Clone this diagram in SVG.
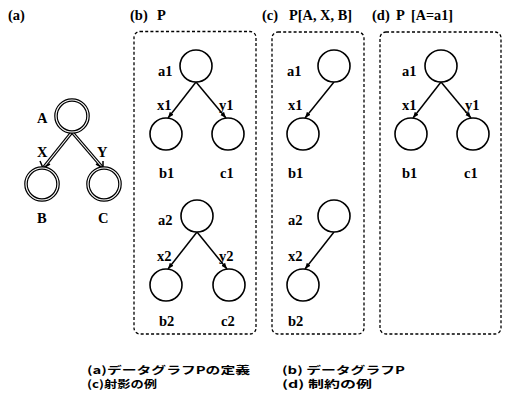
<svg xmlns="http://www.w3.org/2000/svg" width="506" height="397" viewBox="0 0 506 397">
<defs>
<marker id="ah" viewBox="0 0 10 10" refX="10" refY="5" markerWidth="6" markerHeight="6" markerUnits="userSpaceOnUse" orient="auto">
<path d="M0,1 L10,5 L0,9 z" fill="#000"/>
</marker>
</defs>
<style>
.t{font-family:"Liberation Serif","DejaVu Serif",serif;font-weight:bold;font-size:14.5px;fill:#000}
.c{font-family:"Noto Sans CJK JP","Noto Sans",sans-serif;font-weight:bold;font-size:10.5px;fill:#000}
.n{fill:#fff;stroke:#000;stroke-width:1.6}
.dn{fill:#fff;stroke:#000;stroke-width:3.6}
.dni{fill:none;stroke:#fff;stroke-width:1.2}
.e{stroke:#000;stroke-width:1.5;fill:none}
.de{stroke:#000;stroke-width:3.4;fill:none}
.dei{stroke:#fff;stroke-width:1.1;fill:none}
.box{fill:none;stroke:#000;stroke-width:1.3;stroke-dasharray:3 2.2}
</style>
<rect width="506" height="397" fill="#fff"/>
<g id="titles">
<text class="t" x="8" y="20">(a)</text>
<text class="t" x="130" y="20">(b)</text>
<text class="t" x="157" y="20">P</text>
<text class="t" x="262" y="20">(c)</text>
<text class="t" x="289" y="20" textLength="63" lengthAdjust="spacingAndGlyphs">P[A, X, B]</text>
<text class="t" x="372" y="20">(d)</text>
<text class="t" x="396" y="20">P</text>
<text class="t" x="411" y="20" textLength="42" lengthAdjust="spacingAndGlyphs">[A=a1]</text>
</g>
<g id="boxes">
<rect class="box" x="134" y="31.5" width="122" height="302.5" rx="6"/>
<rect class="box" x="272" y="32" width="92" height="302" rx="6"/>
<rect class="box" x="380" y="32" width="121" height="302" rx="6"/>
</g>
<g id="connectors">
<line class="de" x1="72" y1="132" x2="44" y2="167"/>
<line class="dei" x1="72" y1="132" x2="44" y2="167"/>
<line class="de" x1="72" y1="132" x2="102" y2="167"/>
<line class="dei" x1="72" y1="132" x2="102" y2="167"/>
<path class="e" d="M40,161 L43,168 L50,164"/>
<path class="e" d="M96,164 L103,168 L103,161"/>
<line class="e" x1="196" y1="82" x2="168" y2="118" marker-end="url(#ah)"/>
<line class="e" x1="196" y1="82" x2="226" y2="118" marker-end="url(#ah)"/>
<line class="e" x1="197" y1="232" x2="168" y2="269" marker-end="url(#ah)"/>
<line class="e" x1="197" y1="232" x2="227" y2="269" marker-end="url(#ah)"/>
<line class="e" x1="334" y1="82" x2="305" y2="118" marker-end="url(#ah)"/>
<line class="e" x1="334" y1="232" x2="305" y2="269" marker-end="url(#ah)"/>
<line class="e" x1="441" y1="82" x2="413" y2="118" marker-end="url(#ah)"/>
<line class="e" x1="441" y1="82" x2="471" y2="118" marker-end="url(#ah)"/>
</g>
<g id="nodeA"><circle class="dn" cx="72" cy="116" r="16"/><circle class="dni" cx="72" cy="116" r="16"/><text class="t" x="37" y="123">A</text></g>
<g id="nodeB"><circle class="dn" cx="42" cy="184" r="16"/><circle class="dni" cx="42" cy="184" r="16"/><text class="t" x="37" y="223">B</text></g>
<g id="nodeC"><circle class="dn" cx="104" cy="184" r="16"/><circle class="dni" cx="104" cy="184" r="16"/><text class="t" x="98" y="223">C</text></g>
<g id="edgeLabelsA"><text class="t" x="37" y="157">X</text><text class="t" x="97" y="157">Y</text></g>

<g id="b_a1"><circle class="n" cx="196" cy="66" r="16"/><text class="t" x="158" y="76">a1</text></g>
<g id="b_b1"><circle class="n" cx="166" cy="134" r="16"/><text class="t" x="159" y="178">b1</text></g>
<g id="b_c1"><circle class="n" cx="228" cy="134" r="16"/><text class="t" x="220" y="178">c1</text></g>
<g id="b_lab1"><text class="t" x="157" y="110">x1</text><text class="t" x="219" y="110">y1</text></g>
<g id="b_a2"><circle class="n" cx="197" cy="216" r="16"/><text class="t" x="158" y="225">a2</text></g>
<g id="b_b2"><circle class="n" cx="166" cy="285" r="16"/><text class="t" x="159" y="326">b2</text></g>
<g id="b_c2"><circle class="n" cx="229" cy="285" r="16"/><text class="t" x="221" y="326">c2</text></g>
<g id="b_lab2"><text class="t" x="157" y="261">x2</text><text class="t" x="219" y="261">y2</text></g>

<g id="c_a1"><circle class="n" cx="334" cy="66" r="16"/><text class="t" x="287" y="76">a1</text></g>
<g id="c_b1"><circle class="n" cx="303" cy="134" r="16"/><text class="t" x="288" y="178">b1</text></g>
<g id="c_lab1"><text class="t" x="288" y="110">x1</text></g>
<g id="c_a2"><circle class="n" cx="334" cy="216" r="16"/><text class="t" x="288" y="225">a2</text></g>
<g id="c_b2"><circle class="n" cx="303" cy="285" r="16"/><text class="t" x="288" y="326">b2</text></g>
<g id="c_lab2"><text class="t" x="288" y="261">x2</text></g>

<g id="d_a1"><circle class="n" cx="441" cy="66" r="16"/><text class="t" x="402" y="76">a1</text></g>
<g id="d_b1"><circle class="n" cx="411" cy="134" r="16"/><text class="t" x="402" y="178">b1</text></g>
<g id="d_c1"><circle class="n" cx="473" cy="134" r="16"/><text class="t" x="464" y="178">c1</text></g>
<g id="d_lab"><text class="t" x="402" y="110">x1</text><text class="t" x="465" y="110">y1</text></g>

<g id="caption">
<text class="c" x="87" y="374" textLength="163" lengthAdjust="spacingAndGlyphs">(a)データグラフPの定義</text>
<text class="c" x="282" y="374" textLength="123" lengthAdjust="spacingAndGlyphs">(b) データグラフP</text>
<text class="c" x="87" y="388" textLength="70" lengthAdjust="spacingAndGlyphs">(c)射影の例</text>
<text class="c" x="282" y="388" textLength="90" lengthAdjust="spacingAndGlyphs">(d) 制約の例</text>
</g>
</svg>
